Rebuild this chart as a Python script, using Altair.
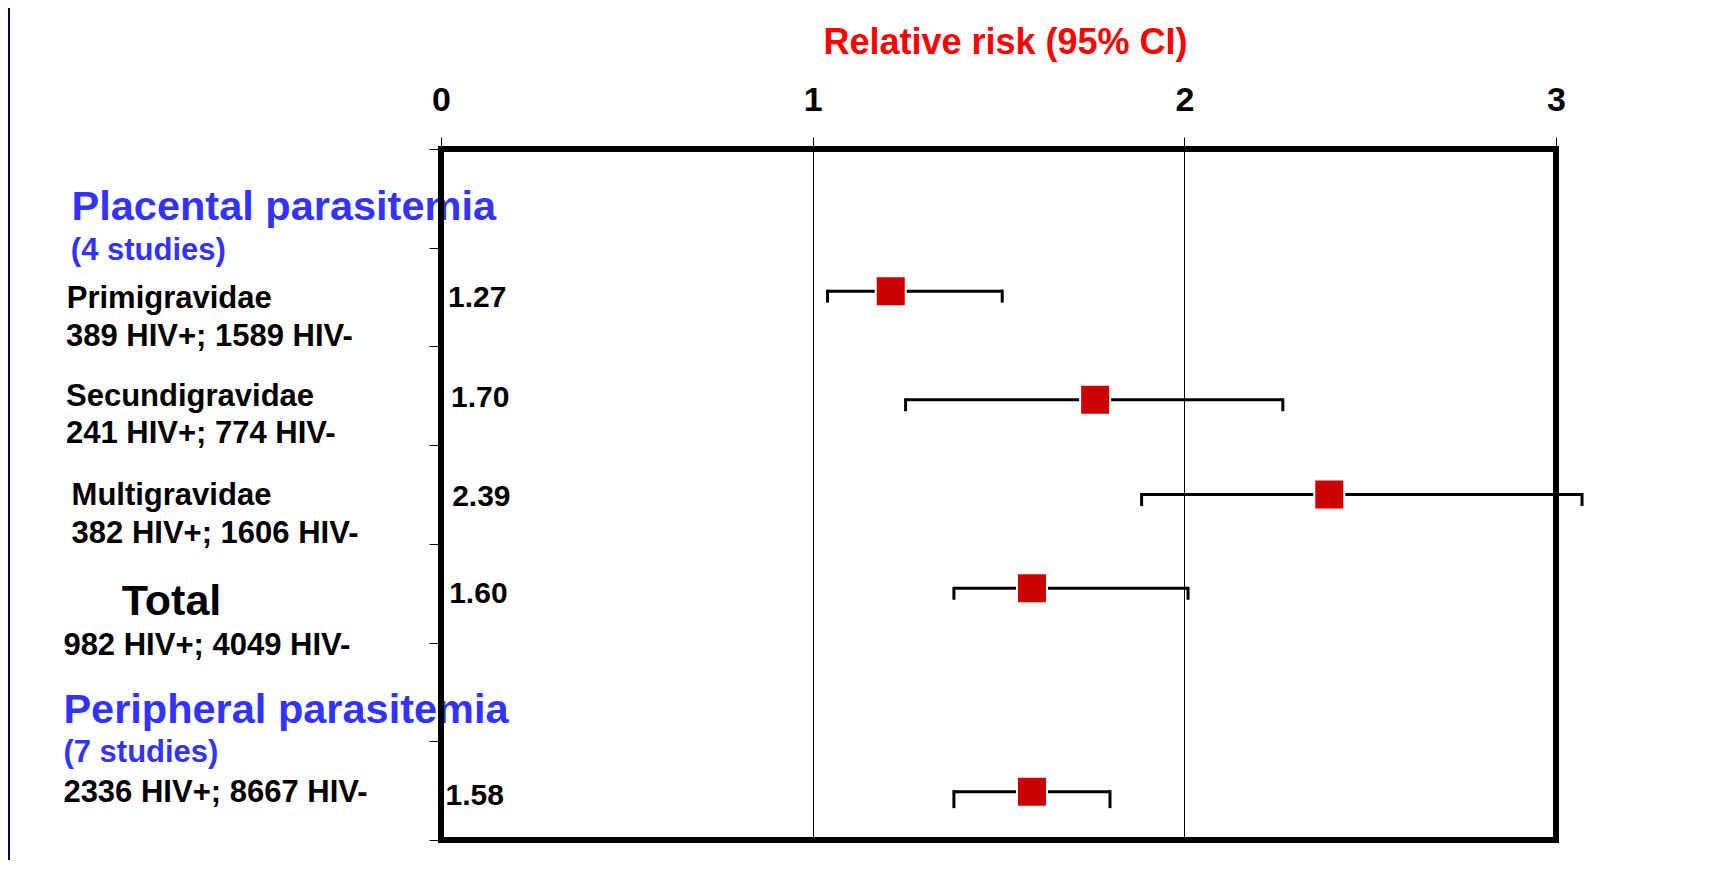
import altair as alt
import pandas as pd

# ---------------- data ----------------
groups = ["Primigravidae", "Secundigravidae", "Multigravidae", "Total", "Peripheral"]
row_pos = [1.44, 2.54, 3.50, 4.45, 6.51]          # vertical slot of each estimate
rr_point = [1.21, 1.76, 2.39, 1.59, 1.59]         # plotted relative risk
ci_low = [1.04, 1.25, 1.885, 1.38, 1.38]          # lower 95% CI
ci_high = [1.51, 2.265, 3.07, 2.01, 1.80]         # upper 95% CI
rr_text = ["1.27", "1.70", "2.39", "1.60", "1.58"]  # printed relative risk

x_ticks = [0, 1, 2, 3]
y_ticks = [0, 1, 2, 3, 4, 5, 6, 7]

label_texts = [
    "Placental parasitemia", "(4 studies)",
    "Primigravidae", "389 HIV+; 1589 HIV-",
    "Secundigravidae", "241 HIV+; 774 HIV-",
    "Multigravidae", "382 HIV+; 1606 HIV-",
    "Total", "982 HIV+; 4049 HIV-",
    "Peripheral parasitemia", "(7 studies)", "2336 HIV+; 8667 HIV-",
]

# ---------------- layout / style (not data) ----------------
FONT = "Liberation Sans"
BLUE = "#3333FF"
RED = "#CC0000"
NAVY = "#000066"

label_x = [-0.994, -0.996, -1.007, -1.009, -1.009, -1.009, -0.994, -0.994,
           -0.859, -1.016, -1.016, -1.016, -1.016]
label_row = [0.719, 1.125, 1.614, 1.996, 2.604, 2.975, 3.607, 3.989,
             4.721, 5.128, 5.818, 6.207, 6.615]
label_size = [41.5, 31, 31, 31, 31, 31, 31, 31, 43, 31, 41.5, 31, 31]
label_color = [BLUE, BLUE, "black", "black", "black", "black", "black", "black",
               "black", "black", BLUE, BLUE, "black"]

rr_label_x = [0.019, 0.027, 0.030, 0.022, 0.012]
rr_label_row = [1.597, 2.616, 3.617, 4.603, 6.645]
cap_drop = [0.101, 0.101, 0.101, 0.101, 0.152]

W, H = 1115, 691
PAD = {"left": 433, "top": 141, "right": 150, "bottom": 20}

# ---------------- tables ----------------
est = pd.DataFrame({
    "group": groups, "row": row_pos, "rr": rr_point,
    "lo": ci_low, "hi": ci_high,
    "cap_end": [r + d for r, d in zip(row_pos, cap_drop)],
})
rr_lab = pd.DataFrame({"text": rr_text, "x": rr_label_x, "row": rr_label_row})
labels = pd.DataFrame({"text": label_texts, "x": label_x, "row": label_row,
                       "fs": label_size, "col": label_color})

xscale = alt.Scale(domain=[0, 3], nice=False, zero=False)
yscale = alt.Scale(domain=[0, 7], nice=False, zero=False, reverse=True)

xaxis = alt.Axis(
    orient="top", values=x_ticks, format="d",
    labelFont=FONT, labelFontSize=34, labelFontWeight="bold", labelColor="black",
    labelBaseline="alphabetic", labelPadding=27, labelFlush=False, labelOverlap=False,
    tickSize=12, tickColor="black", tickWidth=1,
    domain=False, grid=True, gridColor="black", gridWidth=1, gridOpacity=1,
    title="Relative risk (95% CI)", titleColor="#FF0000", titleFont=FONT,
    titleFontSize=36, titleFontWeight="bold", titleX=564, titleY=-96,
    titleBaseline="alphabetic", titleAlign="center",
)
yaxis = alt.Axis(
    values=y_ticks, labels=False, tickSize=12, tickColor="black", tickWidth=1,
    domain=False, grid=False, title="",
)

base = alt.Chart(est)

ci_line = base.mark_rule(color="black", strokeWidth=3).encode(
    x=alt.X("lo:Q", scale=xscale, axis=xaxis),
    x2="hi:Q",
    y=alt.Y("row:Q", scale=yscale, axis=yaxis),
)
cap_lo = base.mark_rule(color="black", strokeWidth=3, strokeCap="square").encode(
    x="lo:Q", y="row:Q", y2="cap_end:Q"
)
cap_hi = base.mark_rule(color="black", strokeWidth=3, strokeCap="square").encode(
    x="hi:Q", y="row:Q", y2="cap_end:Q"
)
points = base.mark_square(size=900, filled=True, color=RED, stroke="white",
                          strokeWidth=2, opacity=1).encode(
    x="rr:Q", y="row:Q"
)
rr_labels = alt.Chart(rr_lab).mark_text(
    align="left", baseline="alphabetic", font=FONT, fontSize=30,
    fontWeight="bold", color="black"
).encode(x="x:Q", y="row:Q", text="text:N")

left_labels = alt.Chart(labels).mark_text(
    align="left", baseline="alphabetic", font=FONT, fontWeight="bold"
).encode(
    x="x:Q", y="row:Q", text="text:N",
    size=alt.Size("fs:Q", scale=None),
    color=alt.Color("col:N", scale=None),
)

frame = alt.Chart(est).mark_rect(
    fill="transparent", stroke="black", strokeWidth=6
).encode(
    x=alt.datum(0), x2=alt.datum(3), y=alt.datum(0), y2=alt.datum(7)
)

navy_strip = alt.Chart(est).mark_rect(color=NAVY).encode(
    x=alt.value(-PAD["left"]), x2=alt.value(-PAD["left"] + 2),
    y=alt.value(-PAD["top"]), y2=alt.value(H + PAD["bottom"]),
)

chart = alt.layer(
    ci_line, cap_lo, cap_hi, points, rr_labels, left_labels, frame, navy_strip
).properties(
    width=W, height=H,
    autosize=alt.AutoSizeParams(type="none"),
    padding=PAD,
    background="white",
).configure_view(strokeWidth=0)

chart.save("out.html", embed_options={"renderer": "svg", "actions": False})
